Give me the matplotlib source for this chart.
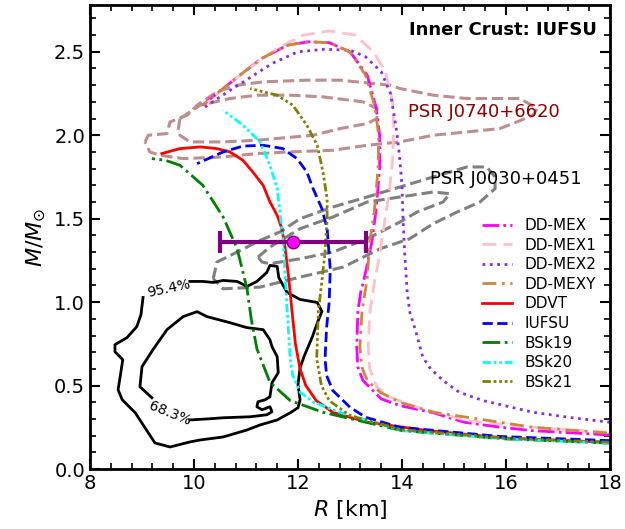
import matplotlib
matplotlib.use('Agg')
import matplotlib.pyplot as plt
from matplotlib.ticker import AutoMinorLocator

#%% Curvas massa-raio (R em km, M em massas solares)

R_mex = [18.0, 16.5, 15.9, 15.2, 14.6, 13.96, 13.6, 13.44, 13.25, 13.15, 13.13, 13.15, 13.2, 13.3,
         13.42, 13.5, 13.57, 13.57, 13.5, 13.33, 13.0, 12.6, 12.2, 11.8, 11.3, 10.8, 10.4, 10.17]
M_mex = [0.204, 0.23, 0.25, 0.28, 0.337, 0.38, 0.42, 0.47, 0.53, 0.61, 0.73, 0.94, 1.05, 1.18,
         1.36, 1.55, 1.8, 2.0, 2.17, 2.36, 2.5, 2.555, 2.56, 2.54, 2.46, 2.34, 2.24, 2.18]

R_mex1 = [17.94, 16.52, 15.25, 14.29, 13.77, 13.52, 13.38, 13.35, 13.38, 13.48, 13.55, 13.65, 13.75,
          13.82, 13.84, 13.82, 13.68, 13.45, 13.1, 12.6, 12.1, 11.6, 11.1, 10.6, 10.2]
M_mex1 = [0.22, 0.25, 0.29, 0.37, 0.43, 0.49, 0.60, 0.73, 0.94, 1.14, 1.25, 1.45, 1.65,
          1.85, 2.05, 2.2, 2.38, 2.5, 2.6, 2.625, 2.6, 2.52, 2.41, 2.29, 2.18]

R_mex2 = [18.0, 17.2, 16.52, 15.56, 15.1, 14.79, 14.55, 14.4, 14.25, 14.15, 14.1, 14.05, 14.02, 14.0,
          13.95, 13.9, 13.78, 13.6, 13.3, 13.0, 12.5, 12.0, 11.5, 11.0, 10.5, 10.17]
M_mex2 = [0.28, 0.31, 0.34, 0.41, 0.46, 0.53, 0.6, 0.67, 0.84, 0.94, 1.06, 1.3, 1.5, 1.7,
          1.88, 2.02, 2.25, 2.38, 2.47, 2.51, 2.515, 2.5, 2.43, 2.33, 2.23, 2.16]

R_mexy = [17.94, 16.52, 15.25, 14.6, 13.96, 13.58, 13.33, 13.23, 13.19, 13.23, 13.33, 13.38, 13.47,
          13.54, 13.55, 13.48, 13.3, 13.0, 12.6, 12.2, 11.8, 11.3, 10.8, 10.4, 10.17]
M_mexy = [0.216, 0.25, 0.31, 0.34, 0.40, 0.46, 0.53, 0.61, 0.73, 0.94, 1.14, 1.36, 1.55,
          1.8, 2.0, 2.17, 2.36, 2.5, 2.555, 2.56, 2.54, 2.46, 2.34, 2.24, 2.18]

R_ddvt = [18.0, 16.0, 14.5, 13.33, 12.67, 12.35, 12.15, 12.04, 11.95, 11.88, 11.82, 11.75, 11.69,
          11.6, 11.46, 11.33, 11.13, 10.94, 10.69, 10.44, 10.12, 9.73, 9.38]
M_ddvt = [0.16, 0.185, 0.23, 0.28, 0.34, 0.41, 0.5, 0.6, 0.75, 0.96, 1.15, 1.33, 1.44,
          1.52, 1.6, 1.70, 1.78, 1.85, 1.90, 1.92, 1.93, 1.92, 1.89]

R_iufsu = [18.0, 15.88, 13.96, 13.3, 13.0, 12.67, 12.55, 12.52, 12.55, 12.6, 12.62, 12.56, 12.46,
           12.29, 12.17, 11.98, 11.71, 11.33, 10.94, 10.56, 10.06]
M_iufsu = [0.17, 0.195, 0.25, 0.31, 0.37, 0.47, 0.56, 0.66, 0.85, 1.0, 1.2, 1.44, 1.56,
           1.68, 1.78, 1.86, 1.92, 1.94, 1.935, 1.90, 1.83]

R_bsk19 = [18.0, 16.0, 14.0, 12.48, 11.85, 11.46, 11.21, 11.1, 11.02, 10.83, 10.56, 10.17, 9.73, 9.45, 9.19]
M_bsk19 = [0.155, 0.18, 0.23, 0.34, 0.41, 0.52, 0.72, 0.9, 1.08, 1.32, 1.51, 1.70, 1.82, 1.85, 1.86]

R_bsk20 = [18.0, 16.0, 14.0, 12.8, 12.3, 12.04, 11.9, 11.85, 11.79, 11.71, 11.6, 11.46, 11.27,
           10.94, 10.56]
M_bsk20 = [0.155, 0.18, 0.23, 0.34, 0.40, 0.46, 0.56, 0.66, 0.96, 1.38, 1.68, 1.82, 1.96,
           2.06, 2.15]

R_bsk21 = [18.0, 16.0, 14.0, 13.0, 12.6, 12.45, 12.36, 12.39, 12.45, 12.52, 12.56, 12.56, 12.48,
           12.37, 12.17, 11.9, 11.6, 11.08]
M_bsk21 = [0.16, 0.185, 0.235, 0.32, 0.41, 0.5, 0.66, 0.94, 1.1, 1.3, 1.5, 1.62, 1.78,
           1.94, 2.06, 2.18, 2.24, 2.28]

#%% Contornos observacionais

# PSR J0740+6620 (externo e interno)
R_j0740_out = [9.06, 9.12, 9.48, 9.54, 9.87, 10.06, 10.44, 10.83, 11.33, 12.17, 12.81, 13.77, 13.96,
               14.6, 15.25, 15.88, 16.27, 16.6, 16.52, 16.21, 15.88, 15.25, 14.6, 13.96, 13.33,
               12.67, 11.85, 11.21, 10.56, 9.79, 9.35, 9.15, 9.06]
M_j0740_out = [1.96, 2.0, 2.01, 2.08, 2.12, 2.18, 2.26, 2.30, 2.32, 2.33, 2.33, 2.30, 2.28,
               2.24, 2.22, 2.22, 2.22, 2.16, 2.12, 2.08, 2.04, 2.02, 2.0, 1.96, 1.94,
               1.91, 1.90, 1.89, 1.87, 1.86, 1.88, 1.90, 1.96]
R_j0740_in = [9.73, 9.69, 9.73, 9.92, 10.56, 11.21, 12.29, 12.81, 13.33, 13.52, 13.52, 13.25, 12.48,
              11.85, 11.21, 10.69, 10.12, 9.92, 9.73]
M_j0740_in = [2.10, 2.02, 2.0, 1.96, 1.96, 1.97, 2.0, 2.04, 2.07, 2.10, 2.16, 2.20, 2.23,
              2.24, 2.24, 2.22, 2.18, 2.14, 2.10]

# PSR J0030+0451 (externo e interno)
R_j0030_out = [10.37, 10.44, 10.83, 11.27, 11.65, 12.04, 12.67, 13.33, 13.96, 14.6, 15.25, 15.63,
               15.79, 15.79, 15.5, 15.06, 14.6, 14.15, 13.58, 12.87, 12.04, 11.27, 10.56, 10.37]
M_j0030_out = [1.14, 1.24, 1.30, 1.37, 1.42, 1.50, 1.57, 1.63, 1.69, 1.75, 1.81, 1.81,
               1.75, 1.68, 1.60, 1.54, 1.47, 1.38, 1.32, 1.21, 1.15, 1.09, 1.08, 1.14]
R_j0030_in = [11.23, 11.46, 12.04, 12.67, 13.33, 13.96, 14.6, 14.92, 14.79, 14.29, 13.96, 13.33,
              12.67, 12.04, 11.46, 11.31, 11.23]
M_j0030_in = [1.27, 1.33, 1.44, 1.51, 1.60, 1.63, 1.66, 1.65, 1.60, 1.54, 1.48, 1.38,
              1.30, 1.26, 1.23, 1.24, 1.27]

# Contornos 95.4% e 68.3% (abertos onde fica o rótulo)
R_c95 = [9.92, 10.17, 10.37, 10.56, 10.83, 11.02, 11.21, 11.40, 11.46, 11.60, 11.63, 11.79, 12.04,
         12.37, 12.46, 12.38, 12.27, 12.13, 12.04, 12.0, 12.04, 12.0, 11.85, 11.6, 11.27, 11.02,
         10.56, 10.12, 9.92, 9.54, 9.25, 9.06, 8.87, 8.62, 8.54, 8.58, 8.63, 8.48, 8.48, 8.71,
         8.90, 8.98, 9.02]
M_c95 = [1.124, 1.124, 1.118, 1.13, 1.124, 1.094, 1.124, 1.178, 1.22, 1.214, 1.148, 1.058, 1.016,
         0.998, 0.944, 0.883, 0.787, 0.685, 0.607, 0.505, 0.415, 0.367, 0.337, 0.294, 0.264, 0.234,
         0.192, 0.174, 0.162, 0.132, 0.156, 0.246, 0.337, 0.415, 0.475, 0.553, 0.655, 0.703, 0.745, 0.787,
         0.853, 0.925, 1.028]
R_c68 = [9.19, 8.96, 9.0, 9.21, 9.48, 9.79, 10.06, 10.25, 10.69, 11.02, 11.33, 11.46, 11.5, 11.6,
         11.62, 11.5, 11.46, 11.37, 11.23, 11.21, 11.31, 11.46, 11.5, 11.4, 11.08, 10.56, 10.25, 9.92]
M_c68 = [0.427, 0.493, 0.613, 0.715, 0.835, 0.913, 0.943, 0.913, 0.877, 0.847, 0.835, 0.775, 0.733, 0.673,
         0.577, 0.517, 0.433, 0.415, 0.403, 0.373, 0.355, 0.373, 0.343, 0.325, 0.313, 0.307, 0.30, 0.294]

# Ponto com barra de erro
R_pt = 11.9
M_pt = 1.36
R_err = 1.4

#%% Figura

fig = plt.figure(figsize=(6.25, 5.29), dpi=100)
ax = fig.add_axes([0.144, 0.1134, 0.832, 0.877])

ax.plot(R_j0740_out, M_j0740_out, color='rosybrown', ls='--', lw=2.2)
ax.plot(R_j0740_in, M_j0740_in, color='rosybrown', ls='--', lw=2.2)
ax.plot(R_j0030_out, M_j0030_out, color='gray', ls='--', lw=2.2)
ax.plot(R_j0030_in, M_j0030_in, color='gray', ls='--', lw=2.2)
ax.plot(R_c95, M_c95, color='black', lw=2)
ax.plot(R_c68, M_c68, color='black', lw=2)

ax.plot(R_mex, M_mex, color='magenta', ls=(0, (6, 1.5, 1, 1.5)), lw=2, label='DD-MEX')
ax.plot(R_mex1, M_mex1, color='pink', ls=(0, (5, 2.5)), lw=2, label='DD-MEX1')
ax.plot(R_mex2, M_mex2, color='blueviolet', ls=':', lw=2, label='DD-MEX2')
ax.plot(R_mexy, M_mexy, color='peru', ls=(0, (5, 2, 1, 2)), lw=2, label='DD-MEXY')
ax.plot(R_ddvt, M_ddvt, color='red', ls='-', lw=2, label='DDVT')
ax.plot(R_iufsu, M_iufsu, color='blue', ls='--', lw=2, label='IUFSU')
ax.plot(R_bsk19, M_bsk19, color='green', ls='-.', lw=2, label='BSk19')
ax.plot(R_bsk20, M_bsk20, color='cyan', ls=(0, (3, 1, 1, 1, 1, 1)), lw=2, label='BSk20')
ax.plot(R_bsk21, M_bsk21, color='olive', ls=(0, (3, 1, 1, 1, 1, 1, 1, 1)), lw=2, label='BSk21')

ax.errorbar(R_pt, M_pt, xerr=R_err, color='purple', lw=3, capsize=8, capthick=3,
            marker='o', ms=9, mfc='magenta', mec='purple', zorder=5)

ax.text(9.52, 1.08, '95.4%', fontsize=10, rotation=12, ha='center', va='center')
ax.text(9.54, 0.33, '68.3%', fontsize=10, rotation=-22, ha='center', va='center')
ax.text(14.12, 2.14, 'PSR J0740+6620', color='darkred', fontsize=13, ha='left', va='center')
ax.text(14.54, 1.74, 'PSR J0030+0451', color='black', fontsize=13, ha='left', va='center')
ax.text(0.975, 0.946, 'Inner Crust: IUFSU', transform=ax.transAxes, fontsize=13,
        fontweight='bold', ha='right', va='center')

ax.set_xlim(8, 18)
ax.set_ylim(0, 2.78)
ax.set_xlabel(r'$R$ [km]', fontsize=16)
ax.set_ylabel(r'$M/M_{\odot}$', fontsize=16)
ax.xaxis.set_minor_locator(AutoMinorLocator(5))
ax.yaxis.set_minor_locator(AutoMinorLocator(5))
ax.tick_params(which='both', direction='in', top=True, right=True, labelsize=14)
ax.tick_params(which='major', length=7, width=1.5)
ax.tick_params(which='minor', length=4, width=1.2)
for s in ax.spines.values():
    s.set_linewidth(2)

ax.legend(loc='center right', bbox_to_anchor=(1.0, 0.356), frameon=False, fontsize=11,
          labelspacing=0.3)

fig.savefig('out.png', dpi=100)
